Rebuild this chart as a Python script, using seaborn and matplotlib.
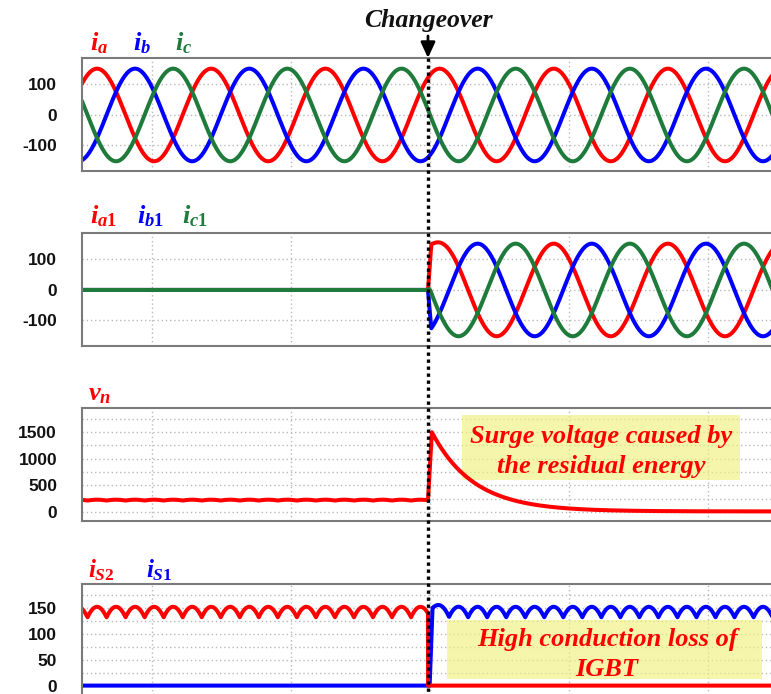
import numpy as np
import matplotlib
matplotlib.use("Agg")
import matplotlib.pyplot as plt
import seaborn as sns
from matplotlib.patches import Rectangle
from matplotlib.lines import Line2D
from matplotlib.transforms import blended_transform_factory

# ---------------- values (time in ms) ----------------
time_window_ms = [-12.6, 116.6]
changeover_ms = 49.6
grid_times_ms = [0, 25, 50, 75, 100]
phase_colors = ["#ff0000", "#0000ff", "#1e7b3c"]
phase_shift_deg = [0, -120, 120]
current_peak_A = 152
period_ms = 20.52
ia_peak_time_ms = -9.88
switch_ramp_ms = 0.6
ia1_overshoot_A = 22
overshoot_decay_ms = 1.2
vn_before_V = 225
vn_ripple_gain = 0.8
vn_surge_peak_V = 1500
vn_surge_rise_ms = 0.7
vn_decay_ms = 7.5
vn_final_V = 10
is1_overshoot_A = 18

current_ticks = [-100, 0, 100]
current_ticklabels = ["-100", "0", "100"]
vn_ticks = [0, 500, 1000, 1500]
vn_ticklabels = ["0", "500", "1000", "1500"]
vn_minor = [250, 750, 1250, 1750]
is_ticks = [0, 50, 100, 150]
is_ticklabels = ["0", "50", "100", "150"]
is_minor = [25, 75, 125, 175]
current_ylim = [-184, 187]
vn_ylim = [-170, 1955]
is_ylim = [-22, 196]

panel1_labels = [r"$i_{a}$", r"$i_{b}$", r"$i_{c}$"]
panel1_label_x = [-11.1, -3.4, 4.1]
panel2_labels = [r"$i_{a1}$", r"$i_{b1}$", r"$i_{c1}$"]
panel2_label_x = [-11.1, -2.7, 5.4]
panel3_labels = [r"$v_{n}$"]
panel3_label_x = [-11.5]
panel4_labels = [r"$i_{S\mathit{2}}$", r"$i_{S\mathit{1}}$"]
panel4_label_x = [-11.5, -1.0]
panel4_colors = ["#ff0000", "#0000ff"]

note1_text = "Surge voltage caused by\nthe residual energy"
note1_box = [55.7, 601, 105.7, 1823]   # x0, y0, x1, y1 (data)
note1_center = [80.7, 1140]
note2_text = "High conduction loss of\nIGBT"
note2_box = [53.0, 13, 109.6, 127]
note2_center = [81.8, 60]

# ---------------- waveforms ----------------
t = np.arange(time_window_ms[0], time_window_ms[1], 0.02)
theta = 2 * np.pi * (t - ia_peak_time_ms) / period_ms
phases = [current_peak_A * np.cos(theta + np.deg2rad(s)) for s in phase_shift_deg]
env = np.clip((t - changeover_ms) / switch_ramp_ms, 0, 1)
after = t >= changeover_ms
bump = np.where(after, np.exp(-(t - changeover_ms) / overshoot_decay_ms), 0)
phases2 = [p * env for p in phases]
phases2[0] = phases2[0] + ia1_overshoot_A * bump * env
rect = np.max(np.abs(np.vstack(phases)), axis=0)

tpk = changeover_ms + vn_surge_rise_ms
vn_pre = vn_before_V + vn_ripple_gain * (rect - rect.mean())
vn_rise = vn_before_V + (vn_surge_peak_V - vn_before_V) * (t - changeover_ms) / vn_surge_rise_ms
vn_decay = vn_final_V + (vn_surge_peak_V - vn_final_V) * np.exp(-(t - tpk) / vn_decay_ms)
vn = np.where(t < changeover_ms, vn_pre, np.where(t < tpk, vn_rise, vn_decay))

env4 = np.clip((t - changeover_ms - 0.3) / 0.5, 0, 1)
is2 = np.where(after, 0.0, rect)
is1 = rect * env4 + is1_overshoot_A * bump * env4

# ---------------- styling ----------------
sns.set_theme(style="white")
plt.rcParams["font.family"] = ["Liberation Sans", "DejaVu Sans"]
plt.rcParams["mathtext.fontset"] = "custom"
plt.rcParams["mathtext.it"] = "Liberation Serif:italic:bold"
plt.rcParams["mathtext.rm"] = "Liberation Serif:bold"
plt.rcParams["mathtext.bf"] = "Liberation Serif:bold"

W, H = 771, 694
fig = plt.figure(figsize=(W / 100, H / 100), dpi=100)
left_px, right_px = 82, 800
panels_px = [(58, 171), (233, 346), (408, 521), (584, 697)]
axes = []
for top, bot in panels_px:
    ax = fig.add_axes([left_px / W, (H - bot) / H, (right_px - left_px) / W, (bot - top) / H])
    axes.append(ax)

xlim = [(left_px - 152) / 5.564, (right_px - 152) / 5.564]
grid_kw = dict(color="#b9b9b9", linestyle=(0, (1, 2)), linewidth=1.0)


def style_axis(ax, ylim, ticks, labels, minor=None):
    ax.set_xlim(xlim)
    ax.set_ylim(ylim)
    ax.set_xticks(grid_times_ms)
    ax.set_xticklabels([])
    ax.set_yticks(ticks)
    ax.set_yticklabels(labels)
    if minor:
        ax.set_yticks(minor, minor=True)
        ax.grid(True, which="minor", axis="y", **grid_kw)
    ax.grid(True, which="major", **grid_kw)
    ax.tick_params(axis="both", which="both", length=0)
    ax.tick_params(axis="y", pad=18, labelsize=12.5, labelcolor="#111111")
    for lab in ax.get_yticklabels():
        lab.set_fontweight("bold")
    for side in ["left", "top", "bottom", "right"]:
        ax.spines[side].set_color("#7a7a7a")
        ax.spines[side].set_linewidth(1.5)
    ax.set_xlabel("")
    ax.set_ylabel("")
    ax.set_axisbelow(True)


lw = 2.9
ax1, ax2, ax3, ax4 = axes
for p, c in zip(phases, phase_colors):
    sns.lineplot(x=t, y=p, color=c, lw=lw, ax=ax1, estimator=None, sort=False)
for p, c in zip(phases2, phase_colors):
    sns.lineplot(x=t, y=p, color=c, lw=lw, ax=ax2, estimator=None, sort=False)
sns.lineplot(x=t, y=vn, color="#ff0000", lw=lw, ax=ax3, estimator=None, sort=False)
sns.lineplot(x=t, y=is1, color="#0000ff", lw=lw, ax=ax4, estimator=None, sort=False)
sns.lineplot(x=t, y=is2, color="#ff0000", lw=lw, ax=ax4, estimator=None, sort=False)

style_axis(ax1, current_ylim, current_ticks, current_ticklabels)
style_axis(ax2, current_ylim, current_ticks, current_ticklabels)
style_axis(ax3, vn_ylim, vn_ticks, vn_ticklabels, vn_minor)
style_axis(ax4, is_ylim, is_ticks, is_ticklabels, is_minor)

# series labels above each panel
def put_labels(ax, labels, xs, colors, y_off_px, size):
    height_px = ax.get_position().height * H
    tr = blended_transform_factory(ax.transData, ax.transAxes)
    for lab, x, c in zip(labels, xs, colors):
        ax.text(x, 1 + y_off_px / height_px, lab, transform=tr, color=c,
                fontsize=size, ha="left", va="baseline")

put_labels(ax1, panel1_labels, panel1_label_x, phase_colors, 8, 19)
put_labels(ax2, panel2_labels, panel2_label_x, phase_colors, 10, 19)
put_labels(ax3, panel3_labels, panel3_label_x, ["#ff0000"], 8, 19)
put_labels(ax4, panel4_labels, panel4_label_x, panel4_colors, 7, 18)

# annotation boxes
note_font = dict(family="Liberation Serif", style="italic", weight="bold",
                 color="#ff0000", fontsize=19, ha="center", va="center",
                 linespacing=1.36)
for ax, box, ctr, txt in [(ax3, note1_box, note1_center, note1_text),
                          (ax4, note2_box, note2_center, note2_text)]:
    ax.add_patch(Rectangle((box[0], box[1]), box[2] - box[0], box[3] - box[1],
                           facecolor="#f0f07e", alpha=0.65, edgecolor="none", zorder=1.5))
    ax.text(ctr[0], ctr[1], txt, zorder=5, **note_font)

# changeover marker
trf = blended_transform_factory(ax1.transData, fig.transFigure)
top_frac = (H - panels_px[0][0]) / H
fig.add_artist(Line2D([changeover_ms, changeover_ms], [top_frac, 0.0], transform=trf,
                      color="black", lw=2.4, linestyle=(0, (1, 1.1)),
                      solid_capstyle="butt", dash_capstyle="butt", zorder=10))
arrow_start = (H - 36) / H
ax1.annotate("", xy=(changeover_ms, top_frac), xycoords=trf,
             xytext=(changeover_ms, arrow_start), textcoords=trf,
             arrowprops=dict(arrowstyle="-|>,head_length=0.67,head_width=0.31",
                             color="black", lw=2, shrinkA=0, shrinkB=0,
                             mutation_scale=14), annotation_clip=False)
fig.text(changeover_ms, (H - 27) / H, "Changeover", transform=trf,
         family="Liberation Serif", style="italic", weight="bold",
         fontsize=18.5, ha="center", va="baseline", color="#111111")

fig.savefig("out.png", dpi=100)
